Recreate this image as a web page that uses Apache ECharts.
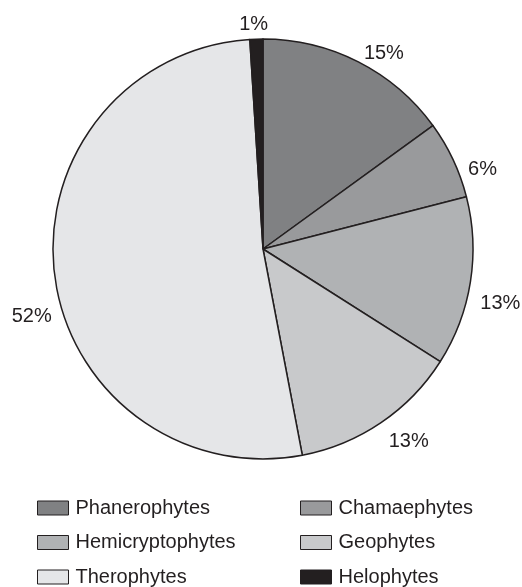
<!DOCTYPE html>
<html>
<head>
<meta charset="utf-8">
<script src="https://cdn.jsdelivr.net/npm/echarts@6/dist/echarts.min.js"></script>
<style>
  html, body { margin: 0; padding: 0; background: #fff; }
  #main { width: 522px; height: 587px; }
</style>
</head>
<body>
<div id="main"></div>
<script>
// life-form spectrum, percent of species
var categories = ['Phanerophytes', 'Chamaephytes', 'Hemicryptophytes', 'Geophytes', 'Therophytes', 'Helophytes'];
var values = [15, 6, 13, 13, 52, 1];
var colors = ['#808183', '#999a9c', '#b0b2b4', '#c8c9cb', '#e5e6e8', '#231f20'];

var leftLegend = [categories[0], categories[2], categories[4]];
var rightLegend = [categories[1], categories[3], categories[5]];

var font = "'Liberation Sans', Arial, sans-serif";
var ink = '#231f20';

// nudge a few labels to where the original puts them
var labelShift = [[-6, 1], [-1, 14], [-7, 20], [-5, 11], [14, 40], [19, -5]];

var chart = echarts.init(document.getElementById('main'));

var data = categories.map(function (name, i) {
    return { name: name, value: values[i], itemStyle: { color: colors[i] } };
});

function legendOpt(list, left) {
    return {
        data: list,
        orient: 'vertical',
        left: left,
        top: 498,
        padding: 0,
        height: 89,
        icon: 'rect',
        itemWidth: 31,
        itemHeight: 14,
        itemGap: 14.5,
        selectedMode: false,
        itemStyle: { borderColor: ink, borderWidth: 1 },
        textStyle: { fontFamily: font, fontSize: 20, lineHeight: 20, color: ink, padding: [0, 0, 0, 2] }
    };
}

chart.setOption({
    animation: false,
    legend: [legendOpt(leftLegend, 37), legendOpt(rightLegend, 300)],
    series: [{
        type: 'pie',
        center: [263, 249],
        radius: 210,
        startAngle: 90,
        clockwise: true,
        data: data,
        itemStyle: { borderColor: ink, borderWidth: 1.5 },
        label: {
            show: true,
            position: 'outside',
            formatter: '{c}%',
            fontFamily: font,
            fontSize: 20,
            color: ink,
            overflow: 'none'
        },
        labelLine: { show: false, length: 10, length2: 2 },
        labelLayout: function (p) {
            var s = labelShift[p.dataIndex];
            return { dx: s[0], dy: s[1] };
        },
        emphasis: { disabled: true }
    }]
});
</script>
</body>
</html>
